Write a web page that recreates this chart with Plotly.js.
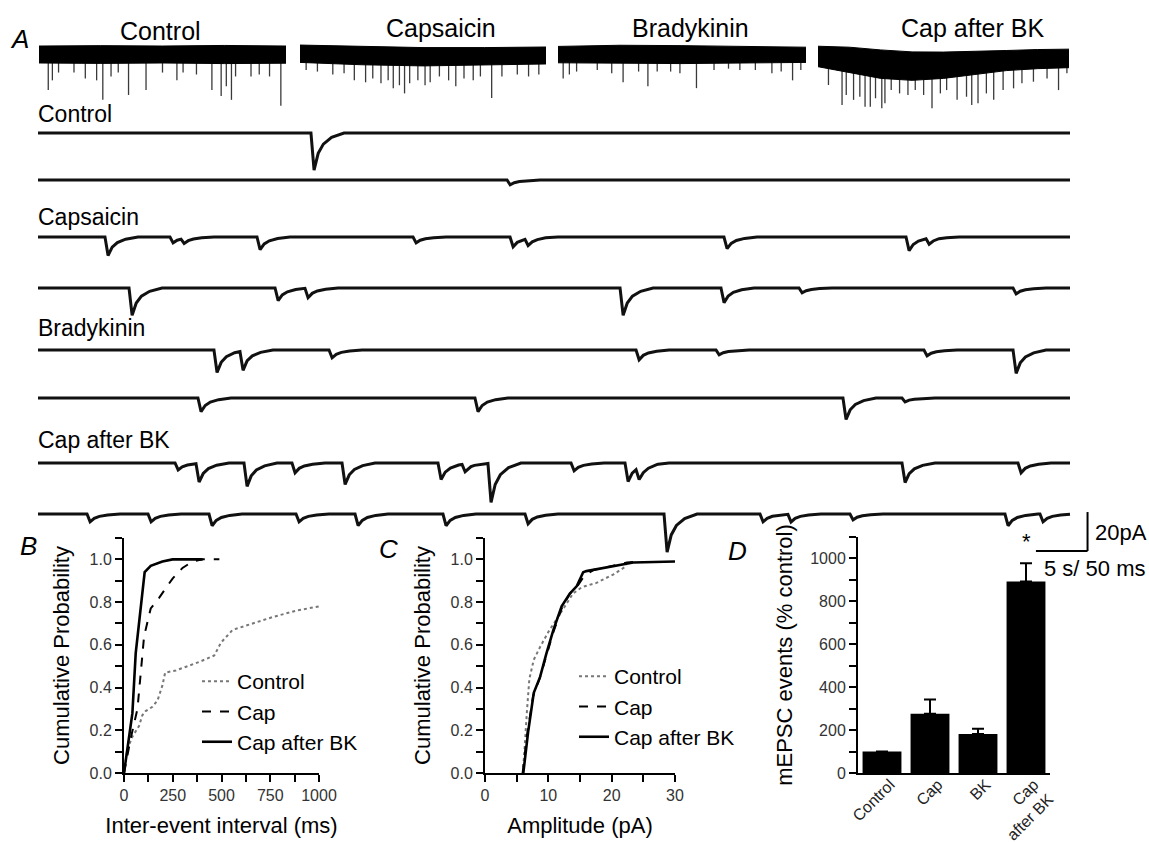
<!DOCTYPE html>
<html><head><meta charset="utf-8">
<script src="https://cdn.plot.ly/plotly-3.0.1.min.js"></script>
<style>html,body{margin:0;padding:0;background:#fff;} #chart{width:1149px;height:842px;}</style>
</head><body><div id="chart"></div>
<script>
// ================= DATA =================
// Panel A, top overview sweeps (time in s, current in pA relative to baseline)
const ovTitles = ['Control', 'Capsaicin', 'Bradykinin', 'Cap after BK'];

const ctrlBandT = [0, 6, 12, 18, 24];
const ctrlBandTop = [4.6, 4.8, 4.6, 4.9, 4.6];
const ctrlBandBot = [-4.1, -4.3, -4.1, -4.4, -4.2];
const ctrlSpikeT = [0.9,1.3,1.9,3.4,4.5,5.6,6.2,7.0,7.7,8.7,10.4,12.0,13.4,14.0,15.3,16.8,17.7,18.2,18.7,19.1,20.6,21.4,22.4,23.5];
const ctrlSpikeA = [18,13,9,9,12,13,23,11,9,20.5,18,9,13,9,10,18,21,16,23,11,11,10,11,26];

const capBandT = [0, 6, 12, 18, 24];
const capBandTop = [5.1, 4.4, 3.8, 3.8, 4.1];
const capBandBot = [-3.8, -5.0, -5.6, -5.0, -4.6];
const capSpikeT = [0.6,1.7,3.2,4.3,5.3,6.4,7.1,7.9,8.6,9.1,9.7,10.2,10.7,11.5,12.2,12.7,13.6,14.5,15.2,16.0,16.9,17.6,18.7,19.7,21.2,22.3,23.3];
const capSpikeA = [7.7,8.5,10,9.4,13,14,12,14.5,13,17,15.5,19.7,14.5,13,15.5,14,11,13,16,12,13,11,22,11,10,11,10];

const bkBandT = [0, 6, 12, 18, 24];
const bkBandTop = [4.4, 5.0, 4.8, 4.3, 4.0];
const bkBandBot = [-4.0, -4.2, -4.4, -4.1, -3.8];
const bkSpikeT = [0.5,1.1,1.8,3.8,5.2,6.3,7.8,8.7,9.6,10.9,11.8,13.4,15.1,16.5,17.6,19.1,20.7,21.6,22.7,23.5];
const bkSpikeA = [12,10,8.5,7.7,9.4,14,8.5,16,8.5,8.5,9.4,17,7.7,7,7.7,7.7,9.4,8.5,13,7.7];

const cabBandT = [0, 3, 6, 9, 12, 15, 18, 21, 24];
const cabBandTop = [4.5, 4.0, 2.6, 1.6, 1.5, 1.8, 2.3, 2.8, 3.0];
const cabBandBot = [-6, -9, -12, -13, -12, -10, -8, -7, -6.5];
const cabSpikeT = [1.0,2.3,2.7,3.4,4.0,4.5,5.0,5.5,6.1,6.4,7.0,7.8,8.6,9.3,10.1,10.9,11.7,12.3,13.3,14.2,14.7,15.3,16.1,16.8,17.7,18.7,19.5,20.6,21.9,23.0,23.8];
const cabSpikeA = [15.4,25.6,20.5,23,21.4,26.5,26.5,22.2,27.3,24.8,18,19.7,20.5,18,20.5,27.3,19.7,18,23,21.4,25.6,24.8,19.7,23,18,17.1,14.5,13.7,12,18,9.4];

// Panel A, expanded 1 s sweeps: event onset (ms) and amplitude (pA)
const rowLabels = ['Control', '', 'Capsaicin', '', 'Bradykinin', '', 'Cap after BK', ''];
const evT1 = [264.5];                         const evA1 = [19];
const evT2 = [454.5];                         const evA2 = [2.5];
const evT3 = [64.9,127.9,138.6,212.2,363.4,457.4,471.9,664.7,841.1,860.5];
const evA3 = [9.5,3,2.5,6.5,3,5,3.5,6,7,3];
const evT4 = [88.2,229.7,258.7,564.0,661.8,737.4,944.8];
const evA4 = [14,6.5,5,14,7.5,2.5,3];
const evT5 = [170.5,195.7,282.0,579.5,657.0,858.5,944.8];
const evA5 = [11.5,10,4,5,2.5,3,12];
const evT6 = [155.0,423.4,780.0,837.2];
const evA6 = [7,7,11,2];
const evT7 = [132.8,153.1,199.6,246.1,294.6,387.6,410.9,436.0,516.5,568.8,579.5,837.2,949.6];
const evA7 = [3.5,9.5,12,5,11,8.5,4,20,4,9.5,6,10,5];
const evT8 = [47.5,106.6,165.7,250.0,307.2,392.4,471.9,606.6,699.6,726.7,786.8,937.0,970.9];
const evA8 = [4,4,6,4,6,6,5,19.5,4,4,3,6,4];
// mEPSC waveform: time after onset (ms) and fraction of peak
const kernelT = [0, 3, 7, 12, 20, 32];
const kernelF = [0, 1, 0.55, 0.3, 0.12, 0];
const scaleBarPA = 20, scaleBarMs = 50;

// Panel B: cumulative inter-event interval (ms)
const bCtrlX = [0,17,43,77,94,111,146,172,197,211,266,386,463,497,557,660,763,883,1000];
const bCtrlY = [0,0.11,0.17,0.22,0.27,0.29,0.31,0.34,0.41,0.47,0.48,0.52,0.55,0.61,0.67,0.70,0.73,0.76,0.78];
const bCapX = [0,34,69,86,103,137,180,249,300,352,403,489];
const bCapY = [0,0.16,0.30,0.48,0.64,0.77,0.82,0.91,0.96,0.99,1.0,1.0];
const bCabX = [0,17,43,60,86,106,137,197,249,403];
const bCabY = [0,0.11,0.28,0.56,0.78,0.94,0.97,0.99,1.0,1.0];

// Panel C: cumulative amplitude (pA)
const cCtrlX = [5.95,6.2,6.6,7.0,7.7,8.7,10.0,11.3,12.6,13.9,15.3,17.6,20.3,22.4];
const cCtrlY = [0,0.09,0.28,0.44,0.53,0.59,0.66,0.72,0.78,0.84,0.87,0.89,0.93,0.97];
const cCapX = [5.95,6.6,7.6,8.6,9.7,10.8,12.1,13.4,14.7,15.6,17.1,20.3,22.4,24.5];
const cCapY = [0,0.17,0.36,0.44,0.55,0.66,0.77,0.84,0.88,0.92,0.95,0.97,0.985,0.99];
const cCabX = [6.05,6.8,7.7,8.7,9.7,10.8,12.1,13.4,14.5,15.5,16,20.3,23.4,30];
const cCabY = [0,0.19,0.375,0.45,0.56,0.67,0.78,0.84,0.875,0.94,0.945,0.97,0.985,0.99];
const seriesNames = ['Control', 'Cap', 'Cap after BK'];

// Panel D: mEPSC events (% control)
const dCats = ['Control', 'Cap', 'BK', 'Cap after BK'];
const dTickText = ['Control', 'Cap', 'BK', 'Cap<br>after BK'];
const dVals = [100, 276, 182, 893];
const dErr = [0, 67, 24, 85];

// ================= LAYOUT HELPERS =================
const W = 1149, H = 842;
const px = v => v / W;
const py = v => 1 - v / H;
const FONT = 'Liberation Sans, Arial, Helvetica, sans-serif';
const PXPERPA = 1.95;

const traces = [];
const layout = {
  width: W, height: H, margin: {l: 0, r: 0, t: 0, b: 0},
  paper_bgcolor: '#fff', plot_bgcolor: 'rgba(0,0,0,0)',
  font: {family: FONT, color: '#000'},
  showlegend: true, annotations: [], shapes: [],
  bargap: 0.19
};
function hidden(dom, range) {
  return {domain: dom, range: range, visible: false, fixedrange: true, showgrid: false, zeroline: false};
}

// ---- overview sweeps ----
const ovSeg = [[39, 286], [300, 546], [558, 806], [818, 1069]];
const ovData = [
  [ctrlBandT, ctrlBandTop, ctrlBandBot, ctrlSpikeT, ctrlSpikeA],
  [capBandT, capBandTop, capBandBot, capSpikeT, capSpikeA],
  [bkBandT, bkBandTop, bkBandBot, bkSpikeT, bkSpikeA],
  [cabBandT, cabBandTop, cabBandBot, cabSpikeT, cabSpikeA]
];
const ovTitlePos = [[160, 31], [441, 28], [690, 28], [972, 28]];
ovData.forEach((d, i) => {
  const n = i + 1;
  const xa = 'x' + n, ya = 'y' + n;
  const sx = [], sy = [];
  d[3].forEach((t, j) => { sx.push(t, t, null); sy.push(0, -d[4][j], null); });
  traces.push({x: sx, y: sy, xaxis: xa, yaxis: ya, mode: 'lines', line: {color: '#3a3a3a', width: 1.3}, showlegend: false, hoverinfo: 'skip'});
  traces.push({x: d[0], y: d[1], xaxis: xa, yaxis: ya, mode: 'lines', line: {color: '#000', width: 1}, showlegend: false, hoverinfo: 'skip'});
  traces.push({x: d[0], y: d[2], xaxis: xa, yaxis: ya, mode: 'lines', fill: 'tonexty', fillcolor: '#000', line: {color: '#000', width: 1}, showlegend: false, hoverinfo: 'skip'});
  layout['xaxis' + n] = Object.assign(hidden([px(ovSeg[i][0]), px(ovSeg[i][1])], [0, 24]), {anchor: ya});
  layout['yaxis' + n] = Object.assign(hidden([py(110), py(40)], [-(110 - 55) / PXPERPA, (55 - 40) / PXPERPA]), {anchor: xa});
  layout.annotations.push({xref: 'paper', yref: 'paper', x: px(ovTitlePos[i][0]), y: py(ovTitlePos[i][1]),
    text: ovTitles[i], showarrow: false, xanchor: 'center', yanchor: 'middle', font: {size: 25, family: FONT}});
});

// ---- expanded sweeps ----
function kernelAt(d) {
  if (d <= 0 || d >= kernelT[kernelT.length - 1]) return 0;
  for (let k = 1; k < kernelT.length; k++) {
    if (d <= kernelT[k]) {
      const f = (d - kernelT[k - 1]) / (kernelT[k] - kernelT[k - 1]);
      return kernelF[k - 1] + f * (kernelF[k] - kernelF[k - 1]);
    }
  }
  return 0;
}
function buildSweep(et, ea) {
  const set = new Set([0, 1000]);
  et.forEach(t0 => kernelT.forEach(k => { const t = t0 + k; if (t >= 0 && t <= 1000) set.add(+t.toFixed(3)); }));
  const xs = Array.from(set).sort((a, b) => a - b);
  const ys = xs.map(t => { let s = 0; et.forEach((t0, j) => { s -= ea[j] * kernelAt(t - t0); }); return s; });
  return {xs, ys};
}
const rowEvents = [[evT1, evA1], [evT2, evA2], [evT3, evA3], [evT4, evA4], [evT5, evA5], [evT6, evA6], [evT7, evA7], [evT8, evA8]];
const rowBase = [133, 180, 237, 288, 350, 398, 463, 514];
const rowLabelY = [114, 0, 217, 0, 328, 0, 440, 0];
const rowX0 = 38, rowPxPerMs = 1.032;
rowEvents.forEach((ev, i) => {
  const n = i + 5;
  const xa = 'x' + n, ya = 'y' + n;
  const s = buildSweep(ev[0], ev[1]);
  traces.push({x: s.xs, y: s.ys, xaxis: xa, yaxis: ya, mode: 'lines', line: {color: '#111', width: 3}, showlegend: false, hoverinfo: 'skip'});
  const b = rowBase[i];
  const xr = (i === 7) ? 1060 : 1000;
  layout['xaxis' + n] = Object.assign(hidden([px(rowX0), px(rowX0 + xr * rowPxPerMs)], [0, xr]), {anchor: ya});
  layout['yaxis' + n] = Object.assign(hidden([py(b + 45), py(b - 20)], [-45 / PXPERPA, 20 / PXPERPA]), {anchor: xa});
  if (rowLabels[i]) {
    layout.annotations.push({xref: 'paper', yref: 'paper', x: px(36), y: py(rowLabelY[i]), text: rowLabels[i],
      showarrow: false, xanchor: 'left', yanchor: 'middle', font: {size: 23, family: FONT}});
  }
});
// scale bar on the last sweep
const sbT = 1017, sbY = -19;
layout.shapes.push({type: 'line', xref: 'x12', yref: 'y12', x0: sbT - scaleBarMs, x1: sbT, y0: sbY, y1: sbY, line: {color: '#000', width: 2}});
layout.shapes.push({type: 'line', xref: 'x12', yref: 'y12', x0: sbT, x1: sbT, y0: sbY, y1: sbY + scaleBarPA, line: {color: '#000', width: 2}});
layout.annotations.push({xref: 'paper', yref: 'paper', x: px(1093), y: py(532), text: scaleBarPA + 'pA', showarrow: false, xanchor: 'left', yanchor: 'middle', font: {size: 22, family: FONT}});
layout.annotations.push({xref: 'paper', yref: 'paper', x: px(1042), y: py(568), text: '5 s/ ' + scaleBarMs + ' ms', showarrow: false, xanchor: 'left', yanchor: 'middle', font: {size: 22, family: FONT}});

// ---- common axis style for B, C, D ----
function axStyle(extra) {
  return Object.assign({
    showline: true, linewidth: 2, linecolor: '#000', ticks: 'outside', ticklen: 7, tickwidth: 2, tickcolor: '#000',
    showgrid: false, zeroline: false, fixedrange: true, tickfont: {size: 16, color: '#333', family: FONT}
  }, extra);
}
const yProbTop = 538, yBottom = 773;

// ---- Panel B ----
const lineStyles = [{color: '#777', width: 2, dash: 'dot'}, {color: '#000', width: 2, dash: 'dash'}, {color: '#000', width: 2.6, dash: 'solid'}];
[[bCtrlX, bCtrlY], [bCapX, bCapY], [bCabX, bCabY]].forEach((s, i) => {
  traces.push({x: s[0], y: s[1], xaxis: 'x13', yaxis: 'y13', mode: 'lines', name: seriesNames[i], line: lineStyles[i], legend: 'legend', hoverinfo: 'skip'});
});
layout.xaxis13 = axStyle({domain: [px(124), px(319)], range: [0, 1000], anchor: 'y13', dtick: 250, tick0: 0,
  minor: {dtick: 125, tick0: 0, ticks: 'outside', ticklen: 7, tickwidth: 2, tickcolor: '#000', showgrid: false},
  title: {text: 'Inter-event interval (ms)', font: {size: 22, family: FONT}, standoff: 14}});
layout.yaxis13 = axStyle({domain: [py(yBottom), py(yProbTop)], range: [0, 1.1], anchor: 'x13', dtick: 0.2, tick0: 0, tickformat: '.1f',
  minor: {dtick: 0.1, tick0: 0, ticks: 'outside', ticklen: 7, tickwidth: 2, tickcolor: '#000', showgrid: false},
  title: {text: 'Cumulative Probability', font: {size: 22, family: FONT}, standoff: 14}});
layout.legend = {x: px(197), y: py(661), xanchor: 'left', yanchor: 'top', traceorder: 'normal', bgcolor: 'rgba(0,0,0,0)', font: {size: 21, family: FONT}, itemwidth: 30, tracegroupgap: 0};

// ---- Panel C ----
[[cCtrlX, cCtrlY], [cCapX, cCapY], [cCabX, cCabY]].forEach((s, i) => {
  traces.push({x: s[0], y: s[1], xaxis: 'x14', yaxis: 'y14', mode: 'lines', name: seriesNames[i], line: lineStyles[i], legend: 'legend2', hoverinfo: 'skip'});
});
layout.xaxis14 = axStyle({domain: [px(485), px(675)], range: [0, 30], anchor: 'y14', dtick: 10, tick0: 0,
  minor: {dtick: 5, tick0: 0, ticks: 'outside', ticklen: 7, tickwidth: 2, tickcolor: '#000', showgrid: false},
  title: {text: 'Amplitude (pA)', font: {size: 22, family: FONT}, standoff: 14}});
layout.yaxis14 = axStyle({domain: [py(yBottom), py(yProbTop)], range: [0, 1.1], anchor: 'x14', dtick: 0.2, tick0: 0, tickformat: '.1f',
  minor: {dtick: 0.1, tick0: 0, ticks: 'outside', ticklen: 7, tickwidth: 2, tickcolor: '#000', showgrid: false},
  title: {text: 'Cumulative Probability', font: {size: 22, family: FONT}, standoff: 14}});
layout.legend2 = {x: px(574), y: py(656), xanchor: 'left', yanchor: 'top', traceorder: 'normal', bgcolor: 'rgba(0,0,0,0)', font: {size: 21, family: FONT}, itemwidth: 30, tracegroupgap: 0};

// ---- Panel D ----
traces.push({type: 'bar', x: dCats, y: dVals, xaxis: 'x15', yaxis: 'y15', marker: {color: '#000'}, showlegend: false, hoverinfo: 'skip',
  error_y: {type: 'data', symmetric: false, array: dErr, arrayminus: dErr.map(() => 0), color: '#000', thickness: 2, width: 6}});
layout.xaxis15 = axStyle({domain: [px(858), px(1050)], anchor: 'y15', type: 'category', range: [-0.5, 3.5], ticks: '',
  tickvals: dCats, ticktext: dTickText, tickangle: -45, ticklabelstandoff: -6, ticklabelshift: 8,
  tickfont: {size: 16, color: '#222', family: FONT}});
layout.yaxis15 = axStyle({domain: [py(yBottom), py(537)], range: [0, 1100], anchor: 'x15', dtick: 200, tick0: 0,
  minor: {dtick: 100, tick0: 0, ticks: 'outside', ticklen: 7, tickwidth: 2, tickcolor: '#000', showgrid: false},
  title: {text: 'mEPSC events (% control)', font: {size: 22, family: FONT}, standoff: 12}});
layout.annotations.push({xref: 'x15', yref: 'y15', x: 'Cap after BK', y: 1080, text: '*', showarrow: false, xanchor: 'center', yanchor: 'middle', font: {size: 22, family: FONT}});

// ---- panel letters ----
[['A', 19, 39], ['B', 28, 546], ['C', 388, 549], ['D', 737, 551]].forEach(l => {
  layout.annotations.push({xref: 'paper', yref: 'paper', x: px(l[1]), y: py(l[2]), text: '<i>' + l[0] + '</i>', showarrow: false,
    xanchor: 'center', yanchor: 'middle', font: {size: 26, family: FONT}});
});

Plotly.newPlot('chart', traces, layout, {staticPlot: true, displayModeBar: false});
</script>
</body></html>
